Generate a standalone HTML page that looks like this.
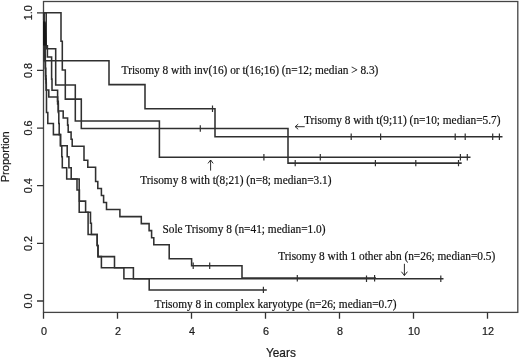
<!DOCTYPE html><html><head><meta charset="utf-8"><style>html,body{margin:0;padding:0;background:#fff;}svg{display:block;will-change:transform;}</style></head><body>
<svg width="520" height="359" viewBox="0 0 520 359">
<rect width="520" height="359" fill="#fff"/>
<rect x="43.5" y="1.5" width="474.3" height="310.9" fill="none" stroke="#444" stroke-width="1.3"/>
<path d="M43.5 312.4 V318.8 M117.5 312.4 V318.8 M191.5 312.4 V318.8 M265.5 312.4 V318.8 M339.5 312.4 V318.8 M413.5 312.4 V318.8 M487.5 312.4 V318.8 M37 301.0 H43.5 M37 243.4 H43.5 M37 185.7 H43.5 M37 128.1 H43.5 M37 70.4 H43.5 M37 12.8 H43.5" stroke="#333" stroke-width="1.3" fill="none"/>
<g style="font-family:&quot;Liberation Sans&quot;,sans-serif" font-size="11.6" fill="#1a1a1a" stroke="#1a1a1a" stroke-width="0.2" text-anchor="middle">
<text x="44.1" y="335.2" font-size="10.8">0</text>
<text x="118.1" y="335.2" font-size="10.8">2</text>
<text x="192.1" y="335.2" font-size="10.8">4</text>
<text x="266.1" y="335.2" font-size="10.8">6</text>
<text x="340.1" y="335.2" font-size="10.8">8</text>
<text x="414.1" y="335.2" font-size="10.8">10</text>
<text x="488.1" y="335.2" font-size="10.8">12</text>
<text transform="translate(32,301.0) rotate(-90)" font-size="10.8">0.0</text>
<text transform="translate(32,243.4) rotate(-90)" font-size="10.8">0.2</text>
<text transform="translate(32,185.7) rotate(-90)" font-size="10.8">0.4</text>
<text transform="translate(32,128.1) rotate(-90)" font-size="10.8">0.6</text>
<text transform="translate(32,70.4) rotate(-90)" font-size="10.8">0.8</text>
<text transform="translate(32,12.8) rotate(-90)" font-size="10.8">1.0</text>
<text x="280.9" y="357" font-size="11.9">Years</text>
<text transform="translate(9.2,156.8) rotate(-90) scale(0.955,1)">Proportion</text>
</g>
<path d="M43.5 12.7 H43.9 V36.5 H44.2 V60.8 H109 V84.6 H145 V108.8 H215 V136.8 H502.5" stroke="#303030" stroke-width="1.55" fill="none"/>
<path d="M43.5 12.7 H61 V41.3 H62.3 V70 H65.3 V99.1 H81.3 V128.5 H288 V163.1 H461.7" stroke="#303030" stroke-width="1.55" fill="none"/>
<path d="M43.5 12.7 H46.2 V48.8 H55.7 V85.0 H75.3 V121.0 H159.4 V157.2 H470.5" stroke="#303030" stroke-width="1.55" fill="none"/>
<path d="M43.5 12.7 H43.8 V23.6 H44.6 V34.7 H44.9 V45.8 H45.1 V56.9 H45.3 V68 H45.6 V79.1 H46.2 V90.2 H46.5 V101.3 V112.4 H47.8 V123.5 H53.4 V134.6 H60.5 V145.7 H61.8 V156.8 H62.3 V167.8 H66.7 V178.9 H79.2 V190 V201.1 V212.2 H88.1 V223.3 V234.4 H97.2 V245.5 H98 V256.6 H114.5 V267.7 H133.4 V278.8 H149.2 V289.9 H266.8" stroke="#303030" stroke-width="1.55" fill="none"/>
<path d="M43.5 12.7 H43.8 V23.6 H44.8 V34.7 H45.2 V45.8 H47.4 V56.9 H51.6 V68 V79.1 H52 V90.2 H57.6 V101.3 H58.3 V112.4 H58.8 V123.5 H59.2 V134.6 H60.5 V145.7 H67.2 V156.8 H68.9 V167.8 H71.2 V178.9 H77 V190 H79.4 V201.1 H85.6 V212.2 H90.5 V223.3 H91.4 V234.4 H97.2 V245.5 H98 V256.6 H101.4 V267.7 H123.9 V278.8 H443.5" stroke="#303030" stroke-width="1.55" fill="none"/>
<path d="M43.5 12.7 H43.7 V19.5 H44.0 V26.6 H44.4 V33.6 H44.6 V40.6 H44.8 V47.7 H45 V54.7 H45.2 V61.8 H45.4 V68.8 H45.6 V75.8 H46 V82.9 H46.3 V89.9 H48.8 V96.9 H57.6 V104 H58.3 V111 H63.2 V118 H67.6 V125.1 H68.2 V132.1 H71.1 V139.2 H72.2 V146.2 H84 V160.3 H87.8 V167.3 H95.6 V181.4 H97.8 V188.4 H101.4 V195.5 H103.6 V202.5 H106.5 V209.5 H119.9 V216.6 H141.3 V223.6 H149.1 V230.6 H151.6 V237.7 H153.8 V244.7 H169.2 V258.8 H191.6 V265.8 H242 V278.0 H376" stroke="#303030" stroke-width="1.55" fill="none"/>
<path d="M43.0 21.5 L45.6 21.5 L46.7 45.5 L43.0 45.5 Z" fill="#161616"/>
<path d="M212.5 105.6 V112.0 M351.2 133.6 V140.0 M380.6 133.6 V140.0 M455.2 133.6 V140.0 M465.2 133.6 V140.0 M492.7 133.6 V140.0 M499.4 133.6 V140.0 M200.3 125.3 V131.7 M295.2 159.9 V166.3 M375.4 159.9 V166.3 M415.8 159.9 V166.3 M458.5 159.9 V166.3 M263.9 154.0 V160.4 M320.3 154.0 V160.4 M460.4 154.0 V160.4 M467.3 154.0 V160.4 M263.4 286.7 V293.1 M366.5 275.6 V282.0 M440.8 275.6 V282.0 M193.2 262.6 V269.0 M209.7 262.6 V269.0 M297.3 275.1 V281.5 M374.6 275.1 V281.5" stroke="#303030" stroke-width="1.2" fill="none"/>
<g style="font-family:&quot;Liberation Serif&quot;,serif" font-size="11.36" fill="#111" stroke="#111" stroke-width="0.18">
<text transform="translate(121.6,73.8) scale(1,1.05)">Trisomy 8 with inv(16) or t(16;16) (n=12; median &gt; 8.3)</text>
<text transform="translate(304.0,123.7) scale(1,1.05)">Trisomy 8 with t(9;11) (n=10; median=5.7)</text>
<text transform="translate(140.3,184.1) scale(1,1.05)">Trisomy 8 with t(8;21) (n=8; median=3.1)</text>
<text transform="translate(162.5,232.5) scale(1,1.05)">Sole Trisomy 8 (n=41; median=1.0)</text>
<text transform="translate(278.2,260.3) scale(1,1.05)">Trisomy 8 with 1 other abn (n=26; median=0.5)</text>
<text transform="translate(154.6,308.0) scale(1,1.05)">Trisomy 8 in complex karyotype (n=26; median=0.7)</text>
</g>
<path d="M295.2 126.7 H304.7 M295.2 126.7 l3 -2.6 M295.2 126.7 l3 2.6 M210.6 160 V170.6 M210.6 160 l-2.6 3.4 M210.6 160 l2.6 3.4 M404.4 263.8 V275.5 M404.4 275.5 l-3 -3.8 M404.4 275.5 l3 -3.8" stroke="#222" stroke-width="0.95" fill="none"/>
</svg></body></html>
